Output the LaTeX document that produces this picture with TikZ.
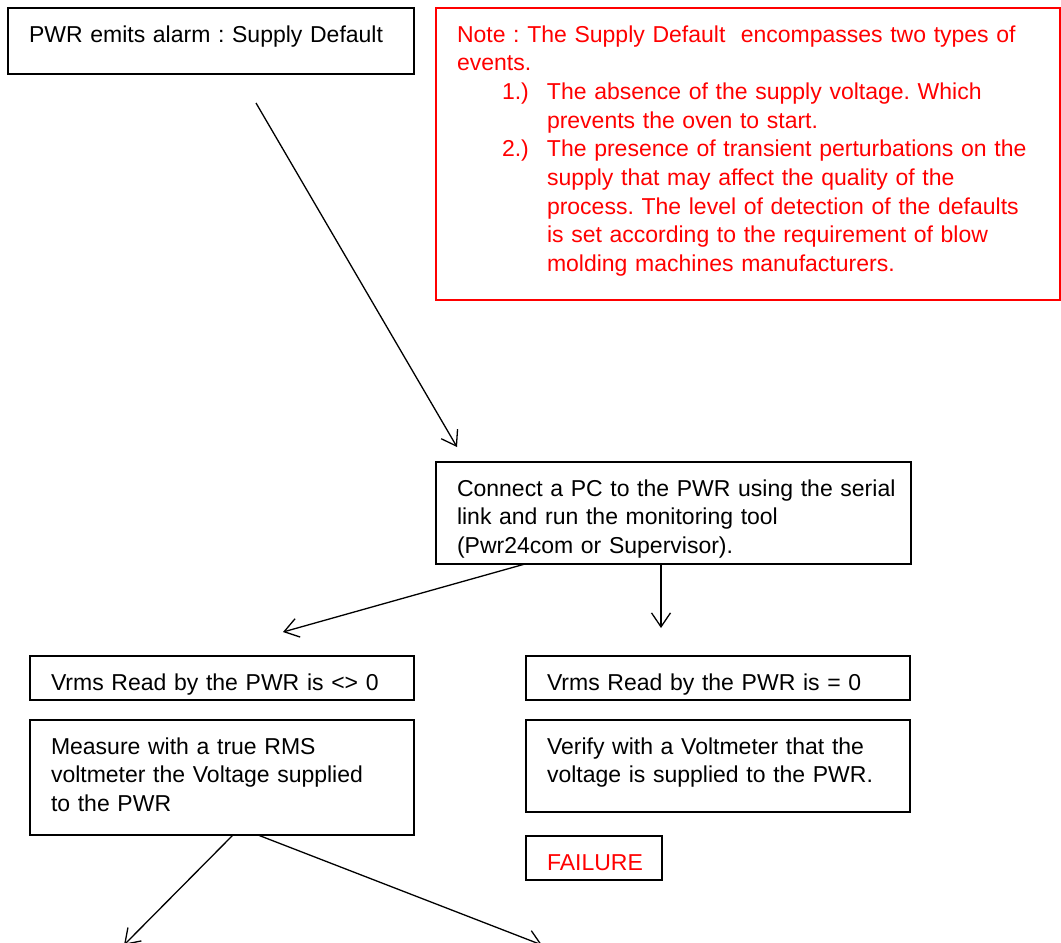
\documentclass[tikz,border=0pt]{standalone}
\usepackage{fontspec}
\setmainfont{Liberation Sans}
\usetikzlibrary{arrows.meta, positioning}
\definecolor{cred}{HTML}{FF0000}
\frenchspacing
\tikzset{
  every picture/.style={font=\fontsize{23}{28.7}\selectfont, line width=1.3pt},
  fbox/.style 2 args={draw, line width=1.7pt, anchor=north west, inner xsep=21pt, inner ysep=0pt, outer sep=0pt,
    text width=#1, text height=34pt, text depth=#2, align=left},
  link/.style={draw=black, line width=1.3pt, -{Straight Barb[length=14pt, width=19pt]}},
}

\begin{document}
\begin{tikzpicture}[x=1pt, y=-1pt]
  \useasboundingbox (0,0) rectangle (1061,943);
  \node[fbox={364pt}{32pt}] (alarm) at (8,8) {PWR emits alarm : Supply Default};
  \node[fbox={582pt}{258pt}, draw=cred, text=cred] (note) at (436,8)
    {Note : The Supply Default~ encompasses two types of\\
     events.\\
     \hspace*{45pt}\makebox[45pt][l]{1.)}The absence of the supply voltage. Which\\
     \hspace*{90pt}prevents the oven to start.\\
     \hspace*{45pt}\makebox[45pt][l]{2.)}The presence of transient perturbations on the\\
     \hspace*{90pt}supply that may affect the quality of the\\
     \hspace*{90pt}process. The level of detection of the defaults\\
     \hspace*{90pt}is set according to the requirement of blow\\
     \hspace*{90pt}molding machines manufacturers.};
  \node[fbox={433pt}{68pt}] (pc) at (436,462)
    {\mbox{Connect a PC to the PWR using the serial}\\ link and run the monitoring tool\\ (Pwr24com or Supervisor).};
  % the two readings of Vrms
  \node[fbox={342pt}{10pt}] (vne) at (30,656) {Vrms Read by the PWR is <> 0};
  \node[fbox={342pt}{10pt}] (veq) at (526,656) {Vrms Read by the PWR is = 0};
  \node[fbox={342pt}{81pt}, below=20pt of vne.south west, anchor=north west] (meas)
    {Measure with a true RMS\\ voltmeter the Voltage supplied\\ to the PWR};
  \node[fbox={342pt}{58pt}, below=20pt of veq.south west, anchor=north west] (verif)
    {Verify with a Voltmeter that the\\ voltage is supplied to the PWR.};
  \node[fbox={94pt}{10pt}, text=cred, below=24pt of verif.south west, anchor=north west] (fail) {FAILURE};
  % arrow ends
  \coordinate (a1) at ([xshift=45pt, yshift=-29pt]alarm.south);
  \coordinate (b1) at ([xshift=21pt, yshift=15pt]pc.north west);
  \coordinate (a2) at ([xshift=89pt]pc.south west);
  \coordinate (b2) at ([xshift=61pt, yshift=24pt]vne.north);
  \coordinate (a3) at ([xshift=225pt]pc.south west);
  \coordinate (b3) at ([xshift=135pt, yshift=28pt]veq.north west);
  \coordinate (a4) at ([xshift=203pt]meas.south west);
  \coordinate (b4) at (124,945);
  \coordinate (a5) at ([xshift=228pt]meas.south west);
  \coordinate (b5) at (542,945);
  \foreach \k in {1,...,5} \draw[link] (a\k) -- (b\k);
\end{tikzpicture}
\end{document}
